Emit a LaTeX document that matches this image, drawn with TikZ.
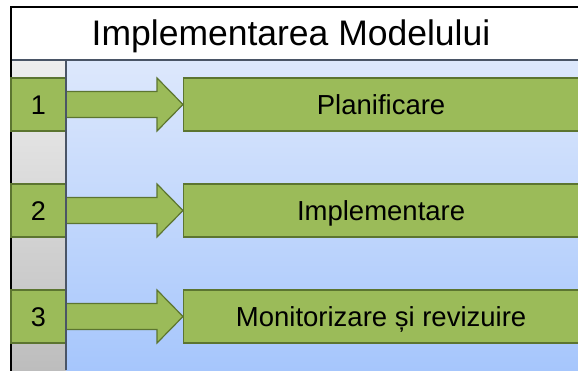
\documentclass[tikz,border=0pt]{standalone}
\usepackage{fontspec}
\setmainfont{Liberation Sans}
\usetikzlibrary{calc}
\definecolor{stepgreen}{HTML}{9BBB59}
\definecolor{stepedge}{HTML}{5C7530}
\definecolor{bluetop}{HTML}{DDE8FC}
\definecolor{bluebot}{HTML}{A6C6FC}
\definecolor{graytop}{HTML}{EEEEEE}
\definecolor{graybot}{HTML}{BDBDBD}
\definecolor{rule}{HTML}{4A5566}
\tikzset{
  stepbox/.style={draw=stepedge, line width=1.2pt, fill=stepgreen,
    minimum width=395pt, minimum height=53pt, inner sep=0pt,
    text height=19pt, text depth=0pt, font=\fontsize{27.5}{32}\selectfont, anchor=west},
  numbox/.style={draw=stepedge, line width=1.2pt, fill=stepgreen,
    minimum width=55pt, minimum height=53pt, inner sep=0pt,
    text height=19pt, text depth=0pt, font=\fontsize{27}{32}\selectfont},
  flowarrow/.style={draw=stepedge, line width=1.2pt, fill=stepgreen, line join=miter},
}
\begin{document}
\begin{tikzpicture}[x=1pt,y=-1pt]
  \useasboundingbox (0,0) rectangle (578,370);
  \clip (0,0) rectangle (578,370);
  % white canvas
  \fill[white] (0,0) rectangle (578,370);
  % blue work area
  \shade[top color=bluetop, bottom color=bluebot] (66,60) rectangle (578,370);
  % grey side column
  \shade[top color=graytop, bottom color=graybot] (11,60) rectangle (66,370);
  \draw[rule, line width=1.2pt] (11,78) -- (66,78);
  % title band and outer frame
  \draw[rule, line width=1.5pt] (11,60) -- (578,60);
  \draw[black, line width=1.8pt] (11,375) -- (11,7) -- (590,7);
  \node[anchor=base, font=\fontsize{35.5}{42}\selectfont, inner sep=0pt] (title) at (291,45) {Implementarea Modelului};

  % steps
  \foreach \i/\y/\txt in {1/104.5/Planificare, 2/210.5/Implementare, 3/316.5/Monitorizare și revizuire}{
    \node[numbox] (n\i) at (38.5,\y) {\i};
    \node[stepbox] (b\i) at (183,\y) {\txt};
    \draw[flowarrow]
      ($(n\i.east)+(0,-13)$) -- ($(b\i.west)+(-26,-13)$) -- ($(b\i.west)+(-26,-26.5)$)
      -- (b\i.west) -- ($(b\i.west)+(-26,26.5)$) -- ($(b\i.west)+(-26,13)$)
      -- ($(n\i.east)+(0,13)$);
  }
  \draw[rule, line width=1.5pt] (66,60) -- (66,370);
\end{tikzpicture}
\end{document}
